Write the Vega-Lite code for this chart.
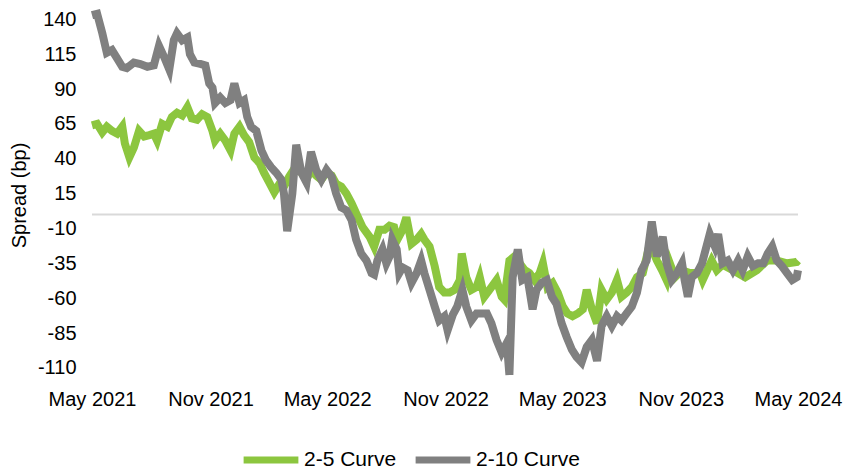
{
"$schema": "https://vega.github.io/schema/vega-lite/v6.json",
"width": 706, "height": 368,
"autosize": {"type": "none"},
"padding": {"left": 92, "top": 11, "right": 45, "bottom": 90},
"config": {"view": {"stroke": null}, "font": "Liberation Sans", "axisY": {"labelOverlap": false, "tickCount": 30}},
"datasets": {
"g210": [
{"date":"2021-05-01","value":143},{"date":"2021-05-09","value":144},{"date":"2021-05-17","value":130},{"date":"2021-05-24","value":116},{"date":"2021-06-01","value":118},{"date":"2021-06-09","value":112},{"date":"2021-06-17","value":106},{"date":"2021-06-24","value":105},{"date":"2021-07-05","value":109},{"date":"2021-07-15","value":108},{"date":"2021-07-26","value":106},{"date":"2021-08-05","value":107},{"date":"2021-08-13","value":121},{"date":"2021-08-21","value":113},{"date":"2021-08-29","value":104},{"date":"2021-09-05","value":125},{"date":"2021-09-10","value":130},{"date":"2021-09-18","value":125},{"date":"2021-09-26","value":127},{"date":"2021-09-30","value":115},{"date":"2021-10-07","value":109},{"date":"2021-10-16","value":108},{"date":"2021-10-24","value":107},{"date":"2021-10-30","value":94},{"date":"2021-11-04","value":91},{"date":"2021-11-08","value":80},{"date":"2021-11-16","value":84},{"date":"2021-11-24","value":80},{"date":"2021-12-02","value":82},{"date":"2021-12-08","value":94},{"date":"2021-12-16","value":80},{"date":"2021-12-23","value":82},{"date":"2021-12-28","value":70},{"date":"2022-01-03","value":63},{"date":"2022-01-11","value":60},{"date":"2022-01-19","value":46},{"date":"2022-01-26","value":39},{"date":"2022-02-03","value":34},{"date":"2022-02-11","value":30},{"date":"2022-02-19","value":25},{"date":"2022-02-23","value":15},{"date":"2022-02-28","value":-12},{"date":"2022-03-08","value":15},{"date":"2022-03-14","value":50},{"date":"2022-03-22","value":30},{"date":"2022-03-30","value":23},{"date":"2022-04-06","value":45},{"date":"2022-04-14","value":32},{"date":"2022-04-22","value":25},{"date":"2022-04-30","value":32},{"date":"2022-05-08","value":27},{"date":"2022-05-15","value":15},{"date":"2022-05-23","value":5},{"date":"2022-05-31","value":3},{"date":"2022-06-08","value":-4},{"date":"2022-06-15","value":-18},{"date":"2022-06-23","value":-28},{"date":"2022-07-01","value":-33},{"date":"2022-07-09","value":-42},{"date":"2022-07-13","value":-43},{"date":"2022-07-18","value":-33},{"date":"2022-07-26","value":-25},{"date":"2022-08-01","value":-35},{"date":"2022-08-06","value":-30},{"date":"2022-08-10","value":-18},{"date":"2022-08-17","value":-25},{"date":"2022-08-21","value":-42},{"date":"2022-08-26","value":-38},{"date":"2022-09-03","value":-40},{"date":"2022-09-09","value":-49},{"date":"2022-09-17","value":-42},{"date":"2022-09-24","value":-33},{"date":"2022-09-29","value":-42},{"date":"2022-10-07","value":-54},{"date":"2022-10-15","value":-66},{"date":"2022-10-22","value":-76},{"date":"2022-10-30","value":-73},{"date":"2022-11-04","value":-83},{"date":"2022-11-12","value":-72},{"date":"2022-11-19","value":-66},{"date":"2022-11-27","value":-54},{"date":"2022-12-03","value":-66},{"date":"2022-12-11","value":-76},{"date":"2022-12-19","value":-71},{"date":"2022-12-27","value":-71},{"date":"2023-01-04","value":-71},{"date":"2023-01-11","value":-78},{"date":"2023-01-19","value":-90},{"date":"2023-01-27","value":-99},{"date":"2023-02-04","value":-92},{"date":"2023-02-08","value":-115},{"date":"2023-02-13","value":-45},{"date":"2023-02-21","value":-25},{"date":"2023-02-28","value":-47},{"date":"2023-03-08","value":-45},{"date":"2023-03-16","value":-68},{"date":"2023-03-22","value":-54},{"date":"2023-03-30","value":-49},{"date":"2023-04-07","value":-47},{"date":"2023-04-15","value":-59},{"date":"2023-04-22","value":-64},{"date":"2023-04-30","value":-78},{"date":"2023-05-08","value":-88},{"date":"2023-05-16","value":-97},{"date":"2023-05-23","value":-102},{"date":"2023-05-31","value":-106},{"date":"2023-06-08","value":-95},{"date":"2023-06-16","value":-90},{"date":"2023-06-24","value":-105},{"date":"2023-07-01","value":-80},{"date":"2023-07-09","value":-73},{"date":"2023-07-17","value":-80},{"date":"2023-07-25","value":-73},{"date":"2023-08-01","value":-76},{"date":"2023-08-09","value":-71},{"date":"2023-08-17","value":-66},{"date":"2023-08-25","value":-56},{"date":"2023-09-01","value":-40},{"date":"2023-09-09","value":-33},{"date":"2023-09-17","value":-5},{"date":"2023-09-25","value":-30},{"date":"2023-10-04","value":-16},{"date":"2023-10-10","value":-35},{"date":"2023-10-18","value":-47},{"date":"2023-10-26","value":-42},{"date":"2023-11-03","value":-35},{"date":"2023-11-07","value":-47},{"date":"2023-11-12","value":-59},{"date":"2023-11-18","value":-45},{"date":"2023-11-26","value":-42},{"date":"2023-12-04","value":-35},{"date":"2023-12-12","value":-21},{"date":"2023-12-16","value":-14},{"date":"2023-12-24","value":-23},{"date":"2023-12-29","value":-14},{"date":"2024-01-05","value":-35},{"date":"2024-01-13","value":-33},{"date":"2024-01-21","value":-40},{"date":"2024-01-29","value":-33},{"date":"2024-02-05","value":-40},{"date":"2024-02-13","value":-30},{"date":"2024-02-21","value":-37},{"date":"2024-02-29","value":-35},{"date":"2024-03-08","value":-35},{"date":"2024-03-15","value":-28},{"date":"2024-03-22","value":-23},{"date":"2024-03-29","value":-33},{"date":"2024-04-06","value":-37},{"date":"2024-04-14","value":-42},{"date":"2024-04-22","value":-47},{"date":"2024-04-29","value":-45},{"date":"2024-05-01","value":-40}
],
"g25": [
{"date":"2021-05-01","value":64},{"date":"2021-05-09","value":65},{"date":"2021-05-17","value":59},{"date":"2021-05-24","value":63},{"date":"2021-06-01","value":60},{"date":"2021-06-09","value":58},{"date":"2021-06-17","value":63},{"date":"2021-06-21","value":51},{"date":"2021-06-28","value":41},{"date":"2021-07-05","value":48},{"date":"2021-07-13","value":60},{"date":"2021-07-21","value":56},{"date":"2021-07-29","value":57},{"date":"2021-08-05","value":58},{"date":"2021-08-10","value":53},{"date":"2021-08-18","value":65},{"date":"2021-08-26","value":63},{"date":"2021-09-02","value":70},{"date":"2021-09-10","value":73},{"date":"2021-09-18","value":71},{"date":"2021-09-26","value":77},{"date":"2021-10-03","value":69},{"date":"2021-10-11","value":68},{"date":"2021-10-19","value":72},{"date":"2021-10-27","value":70},{"date":"2021-11-04","value":60},{"date":"2021-11-08","value":53},{"date":"2021-11-16","value":58},{"date":"2021-11-24","value":53},{"date":"2021-12-02","value":46},{"date":"2021-12-08","value":58},{"date":"2021-12-16","value":63},{"date":"2021-12-23","value":57},{"date":"2021-12-31","value":52},{"date":"2022-01-08","value":41},{"date":"2022-01-16","value":37},{"date":"2022-01-23","value":30},{"date":"2022-01-31","value":23},{"date":"2022-02-08","value":16},{"date":"2022-02-16","value":22},{"date":"2022-02-23","value":20},{"date":"2022-03-03","value":27},{"date":"2022-03-14","value":35},{"date":"2022-03-22","value":30},{"date":"2022-03-30","value":25},{"date":"2022-04-06","value":32},{"date":"2022-04-14","value":28},{"date":"2022-04-22","value":25},{"date":"2022-04-30","value":30},{"date":"2022-05-08","value":28},{"date":"2022-05-15","value":22},{"date":"2022-05-23","value":20},{"date":"2022-05-31","value":15},{"date":"2022-06-08","value":8},{"date":"2022-06-15","value":1},{"date":"2022-06-25","value":-9},{"date":"2022-07-06","value":-16},{"date":"2022-07-13","value":-23},{"date":"2022-07-21","value":-11},{"date":"2022-07-29","value":-11},{"date":"2022-08-06","value":-8},{"date":"2022-08-13","value":-9},{"date":"2022-08-18","value":-18},{"date":"2022-08-26","value":-11},{"date":"2022-09-01","value":-2},{"date":"2022-09-09","value":-21},{"date":"2022-09-17","value":-18},{"date":"2022-09-24","value":-14},{"date":"2022-09-29","value":-18},{"date":"2022-10-07","value":-23},{"date":"2022-10-15","value":-37},{"date":"2022-10-22","value":-52},{"date":"2022-10-30","value":-56},{"date":"2022-11-07","value":-56},{"date":"2022-11-15","value":-54},{"date":"2022-11-23","value":-47},{"date":"2022-11-26","value":-28},{"date":"2022-12-03","value":-45},{"date":"2022-12-11","value":-54},{"date":"2022-12-19","value":-52},{"date":"2022-12-24","value":-45},{"date":"2022-12-31","value":-59},{"date":"2023-01-08","value":-54},{"date":"2023-01-19","value":-47},{"date":"2023-01-27","value":-59},{"date":"2023-01-31","value":-61},{"date":"2023-02-08","value":-33},{"date":"2023-02-16","value":-30},{"date":"2023-02-24","value":-35},{"date":"2023-03-04","value":-40},{"date":"2023-03-11","value":-42},{"date":"2023-03-19","value":-47},{"date":"2023-03-27","value":-42},{"date":"2023-04-01","value":-35},{"date":"2023-04-08","value":-52},{"date":"2023-04-16","value":-49},{"date":"2023-04-24","value":-56},{"date":"2023-05-02","value":-66},{"date":"2023-05-09","value":-71},{"date":"2023-05-17","value":-73},{"date":"2023-05-25","value":-71},{"date":"2023-06-02","value":-68},{"date":"2023-06-08","value":-54},{"date":"2023-06-16","value":-68},{"date":"2023-06-24","value":-78},{"date":"2023-07-01","value":-54},{"date":"2023-07-09","value":-61},{"date":"2023-07-17","value":-56},{"date":"2023-07-25","value":-47},{"date":"2023-08-01","value":-59},{"date":"2023-08-09","value":-56},{"date":"2023-08-17","value":-52},{"date":"2023-08-25","value":-45},{"date":"2023-09-03","value":-42},{"date":"2023-09-14","value":-21},{"date":"2023-09-25","value":-33},{"date":"2023-10-03","value":-40},{"date":"2023-10-10","value":-47},{"date":"2023-10-15","value":-35},{"date":"2023-10-23","value":-45},{"date":"2023-11-03","value":-40},{"date":"2023-11-15","value":-42},{"date":"2023-12-01","value":-42},{"date":"2023-12-05","value":-47},{"date":"2023-12-19","value":-33},{"date":"2023-12-27","value":-40},{"date":"2024-01-05","value":-36},{"date":"2024-01-21","value":-40},{"date":"2024-02-09","value":-45},{"date":"2024-02-27","value":-40},{"date":"2024-03-14","value":-33},{"date":"2024-03-29","value":-33},{"date":"2024-04-14","value":-35},{"date":"2024-04-29","value":-34},{"date":"2024-05-01","value":-33}
]
},
"layer": [
{
"data": {"values": [{}]},
"mark": {"type": "rule", "color": "#D9D9D9", "strokeWidth": 2},
"encoding": {"y": {"datum": 0, "type": "quantitative", "scale": {"domain": [-118, 146], "nice": false, "zero": false}, "title": "Spread (bp)"}}
},
{
"data": {"name": "g25"},
"transform": [{"calculate": "'2-5 Curve'", "as": "series"}],
"mark": {"type": "line", "strokeWidth": 8, "strokeJoin": "miter"},
"encoding": {
"x": {"field": "date", "type": "temporal", "scale": {"type": "utc", "domain": [{"year": 2021, "month": 5, "date": 1, "utc": true}, {"year": 2024, "month": 5, "date": 1, "utc": true}]}, "axis": {"title": null, "values": [{"year": 2021, "month": 5, "date": 1, "utc": true}, {"year": 2021, "month": 11, "date": 1, "utc": true}, {"year": 2022, "month": 5, "date": 1, "utc": true}, {"year": 2022, "month": 11, "date": 1, "utc": true}, {"year": 2023, "month": 5, "date": 1, "utc": true}, {"year": 2023, "month": 11, "date": 1, "utc": true}, {"year": 2024, "month": 5, "date": 1, "utc": true}], "format": "%b %Y", "labelFontSize": 20, "labelColor": "#000000", "domain": false, "ticks": false, "grid": false, "labelPadding": 10, "labelOverlap": false, "labelBound": false, "labelFlush": false}},
"y": {"field": "value", "type": "quantitative", "scale": {"domain": [-118, 146], "nice": false, "zero": false}, "axis": {"title": "Spread (bp)", "titleFontSize": 20, "titleFontWeight": "normal", "titleColor": "#000000", "titlePadding": 8, "values": [-110, -85, -60, -35, -10, 15, 40, 65, 90, 115, 140], "tickCount": 30, "labelExpr": "datum.value + ''", "labelOverlap": false, "labelFontSize": 20, "labelColor": "#000000", "domain": false, "ticks": false, "grid": false, "labelPadding": 16}},
"color": {"field": "series", "type": "nominal", "scale": {"domain": ["2-5 Curve", "2-10 Curve"], "range": ["#8CC63F", "#808080"]}, "legend": {"title": null, "orient": "none", "legendX": 148, "legendY": 418, "direction": "horizontal", "symbolType": "stroke", "symbolSize": 3000, "symbolStrokeWidth": 7, "labelFontSize": 21, "labelColor": "#000000", "labelLimit": 300, "columnPadding": 4, "labelOffset": 2}}
}
},
{
"data": {"name": "g210"},
"transform": [{"calculate": "'2-10 Curve'", "as": "series"}],
"mark": {"type": "line", "strokeWidth": 8, "strokeJoin": "miter"},
"encoding": {
"x": {"field": "date", "type": "temporal"},
"y": {"field": "value", "type": "quantitative"},
"color": {"field": "series", "type": "nominal"}
}
}
]
}
